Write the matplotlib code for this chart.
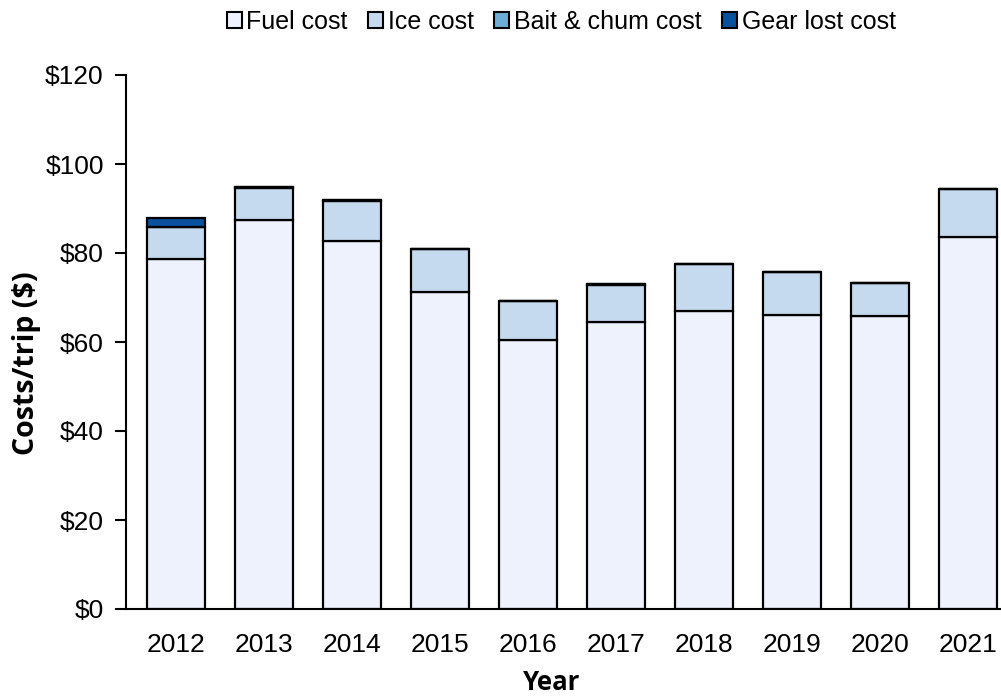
import matplotlib
matplotlib.use("Agg")
import matplotlib.pyplot as plt
import numpy as np

years = ["2012", "2013", "2014", "2015", "2016", "2017", "2018", "2019", "2020", "2021"]
fuel = [78.6, 87.4, 82.7, 71.2, 60.4, 64.5, 67.0, 66.1, 65.8, 83.6]
ice = [7.3, 7.2, 9.0, 9.7, 8.8, 8.2, 10.5, 9.6, 7.5, 10.8]
bait = [0.0, 0.3, 0.3, 0.0, 0.0, 0.3, 0.0, 0.0, 0.0, 0.0]
gear = [2.0, 0.0, 0.0, 0.0, 0.0, 0.0, 0.0, 0.0, 0.0, 0.0]
series_names = ["Fuel cost", "Ice cost", "Bait & chum cost", "Gear lost cost"]
colors = ["#EEF2FC", "#C6DAEF", "#6BAED6", "#08519C"]
yticks = [0, 20, 40, 60, 80, 100, 120]

plt.rcParams['font.family'] = ['Liberation Sans', 'DejaVu Sans']

fig = plt.figure(figsize=(10.01, 6.98), dpi=100)
ax = fig.add_axes([126/1001, 89/698, 886/1001, 534/698])

x = np.arange(len(years))
bottom = np.zeros(len(years))
handles = []
for vals, name, c in zip([fuel, ice, bait, gear], series_names, colors):
    v = np.array(vals)
    b = ax.bar(x, v, bottom=bottom, width=0.66, color=c, edgecolor="black",
               linewidth=1.6, label=name, zorder=2)
    handles.append(b)
    bottom += v

ax.set_xlim(-0.57, 9.5)
ax.set_ylim(0, 120)
ax.set_yticks(yticks)
ax.set_yticklabels([f"${t}" for t in yticks], fontsize=19)
ax.set_xticks(x)
ax.set_xticklabels(years, fontsize=19)
ax.tick_params(axis='y', direction='out', length=8, width=1.5, pad=8)
ax.tick_params(axis='x', length=0, pad=17)
for s in ["top", "right"]:
    ax.spines[s].set_visible(False)
ax.spines["left"].set_linewidth(1.5)
ax.spines["bottom"].set_linewidth(1.5)

ax.set_ylabel("Costs/trip ($)", fontsize=20.5, fontweight="bold",
              family=["Open Sans", "DejaVu Sans"], va="center")
ax.yaxis.set_label_coords(-0.112, 0.46)
ax.set_xlabel("Year", fontsize=18.5, fontweight="bold",
              family=["Open Sans", "DejaVu Sans"], va="bottom")
ax.xaxis.set_label_coords((552 - 126) / 886, -(696 - 609) / 534)

leg = fig.legend(handles=handles, labels=series_names, loc="center",
                 bbox_to_anchor=(561/1001, 1 - 22/698), ncol=4, frameon=False,
                 fontsize=18, handlelength=0.6, handleheight=0.6,
                 handletextpad=0.2, columnspacing=0.8)
for p in leg.get_patches():
    p.set_linewidth(1.5)

fig.savefig("out.png", dpi=100)
